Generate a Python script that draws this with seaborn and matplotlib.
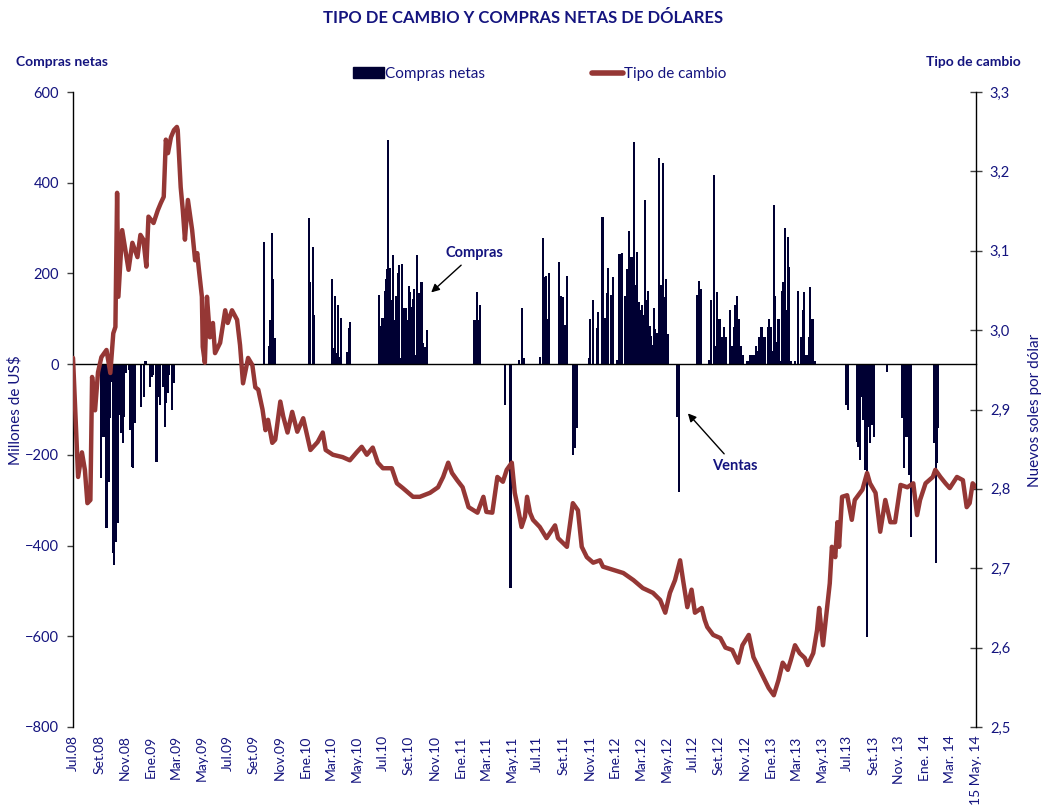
import numpy as np
import pandas as pd
import matplotlib
matplotlib.use("Agg")
import matplotlib.pyplot as plt
from matplotlib.patches import Patch
from matplotlib.lines import Line2D
import matplotlib.dates as mdates
import seaborn as sns

# -----------------------------
# Data
# -----------------------------
# Tipo de cambio (S/. por US$)
tc_fechas = [
    "2008-07-01", "2008-07-13", "2008-07-22", "2008-07-29", "2008-08-04", "2008-08-11",
    "2008-08-15", "2008-08-22", "2008-08-29", "2008-09-06", "2008-09-18", "2008-09-27",
    "2008-10-04", "2008-10-09", "2008-10-13", "2008-10-16", "2008-10-25", "2008-11-09",
    "2008-11-18", "2008-11-30", "2008-12-07", "2008-12-14", "2008-12-21", "2008-12-26",
    "2009-01-07", "2009-01-17", "2009-01-24", "2009-01-31", "2009-02-05", "2009-02-10",
    "2009-02-17", "2009-02-24", "2009-03-03", "2009-03-05", "2009-03-12", "2009-03-17",
    "2009-03-22", "2009-03-29", "2009-04-08", "2009-04-15", "2009-04-20", "2009-04-24",
    "2009-05-01", "2009-05-03", "2009-05-08", "2009-05-13", "2009-05-20", "2009-05-27",
    "2009-06-01", "2009-06-13", "2009-06-25", "2009-07-01", "2009-07-11", "2009-07-23",
    "2009-07-30", "2009-08-06", "2009-08-18", "2009-08-28", "2009-09-04", "2009-09-11",
    "2009-09-21", "2009-09-28", "2009-10-04", "2009-10-14", "2009-10-21", "2009-11-02",
    "2009-11-09", "2009-11-19", "2009-11-30", "2009-12-12", "2009-12-26", "2010-01-12",
    "2010-01-29", "2010-02-10", "2010-02-17", "2010-03-06", "2010-03-29", "2010-04-15",
    "2010-05-01", "2010-05-13", "2010-05-25", "2010-06-08", "2010-06-20", "2010-07-02",
    "2010-07-23", "2010-08-04", "2010-08-18", "2010-09-11", "2010-09-27", "2010-10-21",
    "2010-11-09", "2010-11-21", "2010-12-03", "2010-12-12", "2010-12-24", "2011-01-06",
    "2011-01-20", "2011-02-10", "2011-02-24", "2011-03-03", "2011-03-17", "2011-03-29",
    "2011-04-11", "2011-04-20", "2011-05-02", "2011-05-09", "2011-05-16", "2011-05-25",
    "2011-06-02", "2011-06-07", "2011-06-14", "2011-06-21", "2011-07-07", "2011-07-23",
    "2011-08-12", "2011-08-19", "2011-09-09", "2011-09-23", "2011-10-05", "2011-10-14",
    "2011-10-26", "2011-11-10", "2011-11-26", "2011-12-03", "2011-12-27", "2012-01-20",
    "2012-02-13", "2012-03-06", "2012-03-30", "2012-04-16", "2012-04-28", "2012-05-09",
    "2012-05-21", "2012-06-02", "2012-06-09", "2012-06-19", "2012-06-29", "2012-07-07",
    "2012-07-23", "2012-07-30", "2012-08-05", "2012-08-19", "2012-09-05", "2012-09-17",
    "2012-10-03", "2012-10-17", "2012-10-27", "2012-11-11", "2012-11-22", "2012-12-03",
    "2012-12-16", "2012-12-28", "2013-01-09", "2013-01-20", "2013-01-30", "2013-02-11",
    "2013-02-18", "2013-02-28", "2013-03-11", "2013-03-23", "2013-03-30", "2013-04-12",
    "2013-04-21", "2013-04-26", "2013-05-05", "2013-05-14", "2013-05-21", "2013-05-26",
    "2013-06-03", "2013-06-08", "2013-06-12", "2013-06-19", "2013-07-01", "2013-07-12",
    "2013-07-19", "2013-08-06", "2013-08-17", "2013-08-24", "2013-09-06", "2013-09-17",
    "2013-09-29", "2013-10-11", "2013-10-22", "2013-11-04", "2013-11-20", "2013-12-04",
    "2013-12-13", "2013-12-20", "2014-01-02", "2014-01-19", "2014-01-25", "2014-02-06",
    "2014-02-18", "2014-02-28", "2014-03-17", "2014-03-31", "2014-04-09", "2014-04-16",
    "2014-04-23", "2014-05-01",
]
tc_valores = [
    2.965, 2.815, 2.846, 2.824, 2.782, 2.786,
    2.941, 2.899, 2.947, 2.966, 2.975, 2.946,
    2.996, 3.004, 3.173, 3.042, 3.126, 3.076,
    3.110, 3.092, 3.120, 3.114, 3.080, 3.143,
    3.135, 3.151, 3.160, 3.168, 3.240, 3.223,
    3.243, 3.252, 3.256, 3.252, 3.180, 3.151,
    3.114, 3.164, 3.126, 3.088, 3.097, 3.076,
    3.042, 2.979, 2.959, 3.042, 2.991, 3.009,
    2.971, 2.984, 3.025, 3.009, 3.025, 3.013,
    2.981, 2.933, 2.965, 2.956, 2.928, 2.925,
    2.900, 2.874, 2.887, 2.858, 2.862, 2.910,
    2.891, 2.871, 2.897, 2.872, 2.889, 2.849,
    2.859, 2.871, 2.849, 2.843, 2.840, 2.836,
    2.846, 2.853, 2.843, 2.852, 2.833, 2.826,
    2.826, 2.807, 2.801, 2.790, 2.790, 2.795,
    2.802, 2.815, 2.833, 2.820, 2.811, 2.802,
    2.777, 2.770, 2.790, 2.771, 2.770, 2.815,
    2.809, 2.824, 2.833, 2.795, 2.777, 2.752,
    2.765, 2.790, 2.770, 2.761, 2.752, 2.738,
    2.754, 2.738, 2.727, 2.782, 2.773, 2.727,
    2.714, 2.707, 2.710, 2.702, 2.698, 2.694,
    2.685, 2.675, 2.669, 2.660, 2.644, 2.669,
    2.685, 2.710, 2.685, 2.651, 2.673, 2.644,
    2.650, 2.635, 2.626, 2.616, 2.612, 2.600,
    2.597, 2.581, 2.603, 2.616, 2.588, 2.576,
    2.562, 2.549, 2.540, 2.559, 2.581, 2.572,
    2.584, 2.603, 2.593, 2.587, 2.578, 2.593,
    2.622, 2.650, 2.603, 2.647, 2.681, 2.727,
    2.714, 2.758, 2.727, 2.790, 2.792, 2.761,
    2.786, 2.799, 2.820, 2.807, 2.795, 2.746,
    2.786, 2.758, 2.758, 2.805, 2.802, 2.807,
    2.767, 2.786, 2.807, 2.815, 2.824, 2.815,
    2.807, 2.801, 2.815, 2.811, 2.777, 2.782,
    2.807, 2.802,
]

# Compras netas diarias (millones de US$), negativas = ventas
cn_fechas = [
    # 2008
    "2008-09-04", "2008-09-09", "2008-09-11", "2008-09-18", "2008-09-23", "2008-09-25",
    "2008-09-30", "2008-10-03", "2008-10-06", "2008-10-10", "2008-10-15", "2008-10-17",
    "2008-10-22", "2008-10-27", "2008-10-30", "2008-11-04", "2008-11-10", "2008-11-13",
    "2008-11-18", "2008-11-20", "2008-11-25", "2008-12-09", "2008-12-15", "2008-12-19",
    "2008-12-29",
    # 2009
    "2009-01-02", "2009-01-05", "2009-01-14", "2009-01-16", "2009-01-21", "2009-01-23",
    "2009-01-30", "2009-02-02", "2009-02-06", "2009-02-09", "2009-02-13", "2009-02-20",
    "2009-02-23", "2009-09-25", "2009-10-07", "2009-10-09", "2009-10-14", "2009-10-16",
    "2009-10-21",
    # 2010
    "2010-01-08", "2010-01-12", "2010-01-18", "2010-01-21", "2010-03-03", "2010-03-05",
    "2010-03-10", "2010-03-15", "2010-03-19", "2010-03-22", "2010-03-26", "2010-04-08",
    "2010-04-12", "2010-04-13", "2010-04-16", "2010-06-23", "2010-06-28", "2010-07-01",
    "2010-07-06", "2010-07-09", "2010-07-12", "2010-07-15", "2010-07-19", "2010-07-21",
    "2010-07-26", "2010-07-30", "2010-08-02", "2010-08-06", "2010-08-09", "2010-08-13",
    "2010-08-16", "2010-08-20", "2010-08-25", "2010-08-27", "2010-09-01", "2010-09-03",
    "2010-09-07", "2010-09-10", "2010-09-14", "2010-09-16", "2010-09-21", "2010-09-24",
    "2010-09-28", "2010-10-01", "2010-10-05", "2010-10-08", "2010-10-14", "2010-10-15",
    # 2011
    "2011-02-03", "2011-02-08", "2011-02-10", "2011-02-15", "2011-04-15", "2011-04-29",
    "2011-05-20", "2011-05-27", "2011-05-30", "2011-07-08", "2011-07-14", "2011-07-15",
    "2011-07-19", "2011-07-22", "2011-07-26", "2011-07-29", "2011-08-22", "2011-08-26",
    "2011-08-31", "2011-09-05", "2011-09-09", "2011-09-23", "2011-09-28", "2011-10-03",
    "2011-11-01", "2011-11-03", "2011-11-10", "2011-11-18", "2011-11-22", "2011-12-02",
    "2011-12-07", "2011-12-13", "2011-12-15", "2011-12-22", "2011-12-27",
    # 2012
    "2012-01-06", "2012-01-11", "2012-01-16", "2012-01-23", "2012-01-27", "2012-01-30",
    "2012-02-03", "2012-02-08", "2012-02-10", "2012-02-15", "2012-02-17", "2012-02-22",
    "2012-02-27", "2012-02-29", "2012-03-05", "2012-03-06", "2012-03-12", "2012-03-16",
    "2012-03-19", "2012-03-23", "2012-03-26", "2012-03-30", "2012-04-02", "2012-04-04",
    "2012-04-09", "2012-04-13", "2012-04-18", "2012-04-23", "2012-04-25", "2012-04-30",
    "2012-05-04", "2012-05-25", "2012-05-31", "2012-07-12", "2012-07-13", "2012-07-17",
    "2012-07-20", "2012-08-10", "2012-08-14", "2012-08-20", "2012-08-22", "2012-08-29",
    "2012-09-03", "2012-09-10", "2012-09-14", "2012-09-19", "2012-09-27", "2012-09-28",
    "2012-10-03", "2012-10-08", "2012-10-10", "2012-10-15", "2012-10-19", "2012-10-24",
    "2012-10-29", "2012-11-08", "2012-11-15", "2012-11-22", "2012-11-29", "2012-12-03",
    "2012-12-06", "2012-12-11", "2012-12-13", "2012-12-18", "2012-12-20", "2012-12-26",
    "2012-12-28",
    # 2013
    "2013-01-02", "2013-01-04", "2013-01-09", "2013-01-11", "2013-01-14", "2013-01-18",
    "2013-01-21", "2013-01-23", "2013-01-28", "2013-02-01", "2013-02-04", "2013-02-06",
    "2013-02-11", "2013-02-14", "2013-02-19", "2013-02-28", "2013-03-07", "2013-03-08",
    "2013-03-14", "2013-03-19", "2013-03-22", "2013-03-27", "2013-04-01", "2013-04-04",
    "2013-04-09", "2013-04-11", "2013-04-16", "2013-06-28", "2013-07-03", "2013-07-24",
    "2013-07-26", "2013-07-31", "2013-08-05", "2013-08-08", "2013-08-13", "2013-08-16",
    "2013-08-20", "2013-08-23", "2013-08-29", "2013-09-02", "2013-10-04", "2013-11-08",
    "2013-11-13", "2013-11-18", "2013-11-20", "2013-11-25", "2013-11-29",
    # 2014
    "2014-01-21", "2014-01-27", "2014-01-28", "2014-01-30",
]
cn_valores = [
    # 2008
    -251, -73, -161, -362, -260, -119,
    -40, -417, -443, -392, -351, -112,
    -152, -174, -117, -20, -13, -145,
    -227, -229, -130, -95, -73, 8,
    -51,
    # 2009
    -29, -25, -216, -30, -73, -90,
    -51, -139, -86, -64, -25, -101,
    -42, 269, 40, 97, 289, 187,
    57,
    # 2010
    322, 181, 258, 108, 187, 35,
    150, 24, 130, 15, 101, 26,
    79, 62, 93, 152, 84, 101,
    161, 187, 209, 494, 211, 141,
    240, 97, 150, 200, 218, 13,
    220, 123, 123, 97, 172, 159,
    126, 143, 165, 20, 240, 156,
    134, 181, 46, 37, 75, 31,
    # 2011
    97, 159, 97, 130, -90, -494,
    10, 123, 13, 15, 79, 278,
    192, 194, 99, 200, 225, 150,
    148, 86, 194, -200, -185, -141,
    13, 99, 141, 79, 115, 324,
    101, 156, 212, 152, 192,
    # 2012
    10, 243, 245, 150, 145, 209,
    293, 236, 236, 489, 174, 247,
    137, 119, 130, 108, 362, 141,
    161, 84, 62, 42, 123, 77,
    68, 454, 174, 443, 148, 187,
    66, -117, -282, 46, 152, 183,
    165, 10, 141, 417, 40, 159,
    99, 60, 82, 60, 99, 119,
    40, 82, 130, 150, 99, 40,
    20, 8, 20, 20, 40, 30,
    60, 82, 82, 60, 60, 82,
    99,
    # 2013
    82, 30, 351, 150, 48, 99,
    99, 8, 161, 181, 300, 119,
    280, 214, 8, 8, 90, 161,
    60, 119, 159, 20, 60, 170,
    99, 99, 8, -90, -101, -172,
    -183, -212, -73, -123, -234, -602,
    -139, -174, -134, -161, -18, -119,
    -229, -161, -84, -245, -381,
    # 2014
    -174, -439, -218, -141,
]

etiquetas_x = [
    "Jul.08", "Set.08", "Nov.08", "Ene.09", "Mar.09", "May.09",
    "Jul.09", "Set.09", "Nov.09", "Ene.10", "Mar.10", "May.10",
    "Jul.10", "Set.10", "Nov.10", "Ene.11", "Mar.11", "May.11",
    "Jul.11", "Set.11", "Nov.11", "Ene.12", "Mar.12", "May.12",
    "Jul.12", "Set.12", "Nov.12", "Ene.13", "Mar.13", "May.13",
    "Jul.13", "Set.13", "Nov. 13", "Ene. 14", "Mar. 14", "15 May. 14",
]

# -----------------------------
# Style
# -----------------------------
sns.set_style("white")
plt.rcParams["font.family"] = ["Lato", "DejaVu Sans"]

AZUL = "#14147f"
BARRA = "#000033"
LINEA = "#953735"

tc_df = pd.DataFrame({"fecha": pd.to_datetime(tc_fechas), "tc": tc_valores})
cn_df = pd.DataFrame({"fecha": pd.to_datetime(cn_fechas), "compras": cn_valores})

fig = plt.figure(figsize=(10.46, 8.05), dpi=100)
ax = fig.add_axes([0.0698, 0.0969, 0.8633, 0.7888])
ax_r = ax.twinx()

# -----------------------------
# Bars: compras netas
# -----------------------------
ax.bar(cn_df["fecha"], cn_df["compras"], width=5, color=BARRA, linewidth=0, zorder=2)

x0 = pd.Timestamp("2008-07-01")
x1 = pd.Timestamp("2014-05-01")
ax.set_xlim(x0, x1)
ax.set_ylim(-800, 600)
ax.set_yticks(np.arange(-800, 601, 200))
ax.tick_params(axis="y", which="major", direction="out", length=4, width=1,
               colors="#404040", labelcolor=AZUL, labelsize=10.5, pad=6)

# zero line with small tick marks
ax.spines["bottom"].set_position(("data", 0))
ax.spines["bottom"].set_color("black")
ax.spines["bottom"].set_linewidth(1)
ax.spines["left"].set_color("black")
ax.spines["left"].set_linewidth(1)
ax.spines["top"].set_visible(False)
ax.spines["right"].set_visible(False)
ax.set_xticks([])
ax.set_xticks(np.linspace(mdates.date2num(x0), mdates.date2num(x1), 49), minor=True)
ax.tick_params(axis="x", which="minor", direction="out", length=4, width=1, colors="#808080")

# date labels at the bottom of the plot
sec = ax.secondary_xaxis("bottom")
label_pos = mdates.date2num(pd.date_range("2008-07-01", "2014-05-01", freq="2MS"))
sec.set_xticks(label_pos)
sec.set_xticklabels(etiquetas_x, rotation=90, color=AZUL, fontsize=10)
sec.tick_params(axis="x", length=0, pad=6)
sec.spines["bottom"].set_visible(False)

fig.text(15 / 1046, 1 - 410 / 805, "Millones de US$", rotation=90, ha="center",
         va="center", color=AZUL, fontsize=11)

# -----------------------------
# Line: tipo de cambio
# -----------------------------
sns.lineplot(data=tc_df, x="fecha", y="tc", ax=ax_r, color=LINEA, linewidth=3.2,
             legend=False, zorder=3)
ax_r.set_ylim(2.5, 3.3)
tc_ticks = np.arange(2.5, 3.31, 0.1)
ax_r.set_yticks(tc_ticks)
ax_r.set_yticklabels([f"{t:.1f}".replace(".", ",") for t in tc_ticks])
ax_r.tick_params(axis="y", direction="inout", length=8, width=1, colors="#404040",
                 labelcolor=AZUL, labelsize=10.5, pad=6)
ax_r.set_ylabel("")
ax_r.set_xlabel("")
for side in ["top", "bottom", "left"]:
    ax_r.spines[side].set_visible(False)
ax_r.spines["right"].set_color("black")
ax_r.spines["right"].set_linewidth(1)
ax_r.set_xlim(x0, x1)

fig.text(1035 / 1046, 1 - 410 / 805, "Nuevos soles por dólar", rotation=90, ha="center",
         va="center", color=AZUL, fontsize=11)

# -----------------------------
# Annotations
# -----------------------------
ax.annotate("Compras", xy=(pd.Timestamp("2010-10-19"), 154),
            xytext=(pd.Timestamp("2011-02-03"), 245),
            ha="center", va="center", fontsize=10.5, fontweight="bold", color=AZUL,
            arrowprops=dict(arrowstyle="-|>", color="black", lw=1, mutation_scale=12))
ax.annotate("Ventas", xy=(pd.Timestamp("2012-06-16"), -104),
            xytext=(pd.Timestamp("2012-10-10"), -225),
            ha="center", va="center", fontsize=10.5, fontweight="bold", color=AZUL,
            arrowprops=dict(arrowstyle="-|>", color="black", lw=1, mutation_scale=12))

# -----------------------------
# Titles and legend
# -----------------------------
fig.text(0.5, 1 - 18 / 805, "TIPO DE CAMBIO Y COMPRAS NETAS DE DÓLARES", ha="center",
         va="center", fontsize=12, fontweight="bold", color=AZUL)
fig.text(62 / 1046, 1 - 62 / 805, "Compras netas", ha="center", va="center",
         fontsize=10, fontweight="bold", color=AZUL)
fig.text(973 / 1046, 1 - 62 / 805, "Tipo de cambio", ha="center", va="center",
         fontsize=10, fontweight="bold", color=AZUL)

handles = [Patch(facecolor=BARRA, edgecolor=BARRA),
           Line2D([0], [0], color=LINEA, lw=4)]
leg = fig.legend(handles, ["Compras netas", "Tipo de cambio"], loc="center",
                 bbox_to_anchor=(540 / 1046, 1 - 74 / 805), ncol=2, frameon=False,
                 fontsize=11, handlelength=2.0, handleheight=0.7, handletextpad=0.1,
                 columnspacing=7)
for t in leg.get_texts():
    t.set_color(AZUL)

fig.savefig("out.png", dpi=100)
